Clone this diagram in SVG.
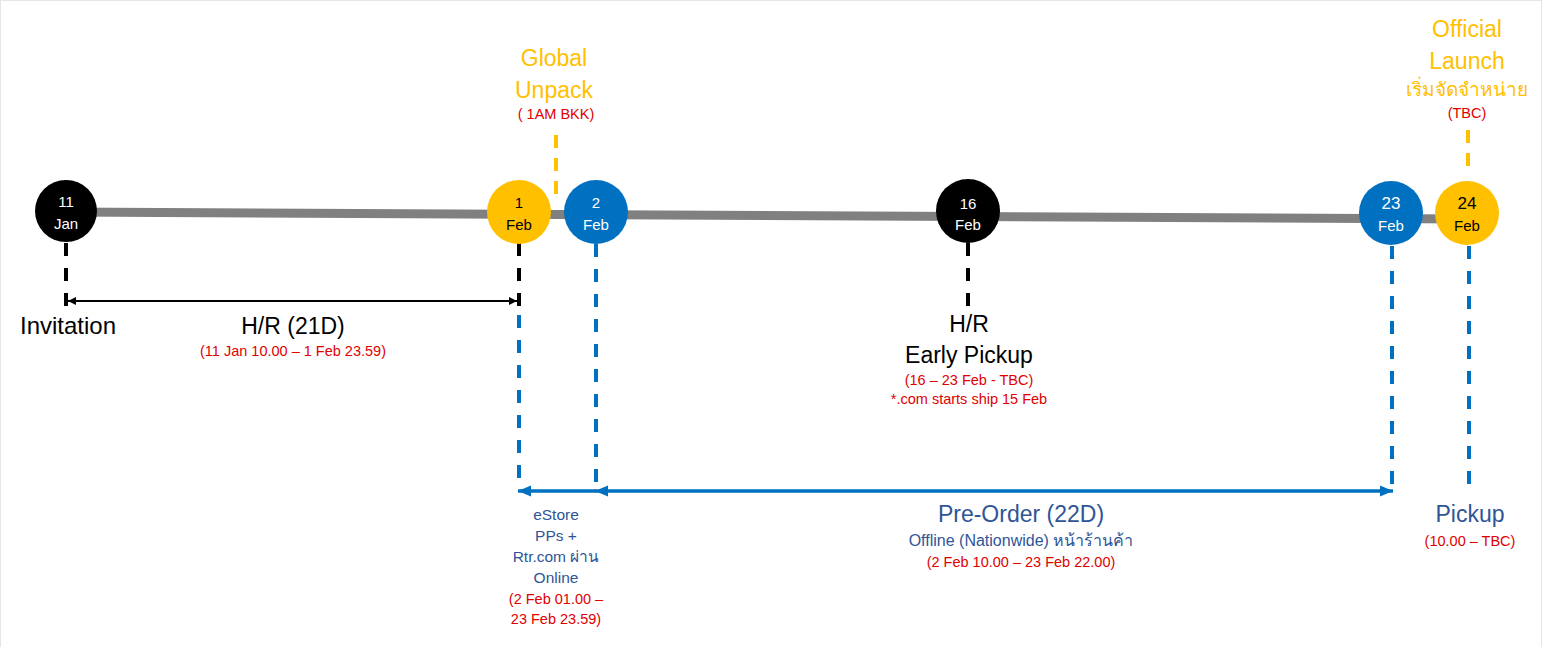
<svg xmlns="http://www.w3.org/2000/svg" width="1544" height="647" viewBox="0 0 1544 647">
<style>
text{font-family:"Liberation Sans","Noto Sans","Noto Sans CJK SC",sans-serif;text-anchor:middle}
.cw{fill:#fff;font-size:15px}
.cb{fill:#000;font-size:15px}
.yel{fill:#FFC000;font-size:23px}
.red{fill:#E00000;font-size:14.5px}
.blk{fill:#000;font-size:23px}
.nav{fill:#2F5597}
.dk{stroke:#000;stroke-width:4;stroke-dasharray:13 12;fill:none}
.db{stroke:#0070C0;stroke-width:4;stroke-dasharray:13 12;fill:none}
.dy{stroke:#FFC000;stroke-width:4;stroke-dasharray:13 10;fill:none}
</style>
<defs>
<marker id="ak" viewBox="0 0 10 10" refX="10" refY="5" markerWidth="4" markerHeight="4" orient="auto-start-reverse"><path d="M0,0L10,5L0,10z" fill="#000"/></marker>
<marker id="ab" viewBox="0 0 10 10" refX="10" refY="5" markerWidth="3.8" markerHeight="3.2" preserveAspectRatio="none" orient="auto-start-reverse"><path d="M0,0L10,5L0,10z" fill="#0070C0"/></marker>
</defs>
<rect x="0.5" y="0.5" width="1541" height="660" fill="#fff" stroke="#e6e6e6"/>
<g id="connectors">
<line x1="66" y1="212" x2="1467" y2="219" stroke="#808080" stroke-width="9"/>
<line class="dk" x1="66" y1="243" x2="66" y2="307"/>
<line class="dk" x1="519" y1="243" x2="519" y2="307"/>
<line class="db" x1="519" y1="315" x2="519" y2="486"/>
<line class="db" x1="596" y1="244" x2="596" y2="490"/>
<line class="dk" x1="968" y1="243" x2="968" y2="308"/>
<line class="db" x1="1392" y1="246" x2="1392" y2="490"/>
<line class="db" x1="1469" y1="246" x2="1469" y2="486"/>
<line class="dy" x1="556" y1="135" x2="556" y2="195"/>
<line class="dy" x1="1468" y1="130" x2="1468" y2="170"/>
<line x1="68" y1="301" x2="517" y2="301" stroke="#000" stroke-width="2" marker-start="url(#ak)" marker-end="url(#ak)"/>
<line x1="596" y1="491" x2="518" y2="491" stroke="#0070C0" stroke-width="3.5" marker-end="url(#ab)"/>
<line x1="595" y1="491" x2="1393" y2="491" stroke="#0070C0" stroke-width="3.5" marker-start="url(#ab)" marker-end="url(#ab)"/>
</g>
<g id="n11jan"><circle cx="66" cy="211" r="31" fill="#000"/><text class="cw" x="66" y="207">11</text><text class="cw" x="66" y="229">Jan</text></g>
<g id="n1feb"><circle cx="519" cy="212" r="32" fill="#FFC000"/><text class="cb" x="519" y="208">1</text><text class="cb" x="519" y="230">Feb</text></g>
<g id="n2feb"><circle cx="596" cy="212" r="32" fill="#0070C0"/><text class="cw" x="596" y="208">2</text><text class="cw" x="596" y="230">Feb</text></g>
<g id="n16feb"><circle cx="968" cy="211" r="32" fill="#000"/><text class="cw" x="968" y="209">16</text><text class="cw" x="968" y="230">Feb</text></g>
<g id="n23feb"><circle cx="1391" cy="213" r="32" fill="#0070C0"/><text class="cw" x="1391" y="209" style="font-size:17px">23</text><text class="cw" x="1391" y="231">Feb</text></g>
<g id="n24feb"><circle cx="1467" cy="213" r="32" fill="#FFC000"/><text class="cb" x="1467" y="209" style="font-size:17px">24</text><text class="cb" x="1467" y="231">Feb</text></g>
<g id="global-unpack">
<text class="yel" x="554" y="66">Global</text>
<text class="yel" x="554" y="98">Unpack</text>
<text class="red" x="556" y="119">( 1AM BKK)</text>
</g>
<g id="official-launch">
<text class="yel" x="1467" y="37">Official</text>
<text class="yel" x="1467" y="69">Launch</text>
<text class="yel" x="1467" y="96" style="font-size:19px">เริ่มจัดจำหน่าย</text>
<text class="red" x="1467" y="118">(TBC)</text>
</g>
<g id="invitation"><text class="blk" x="68" y="334" style="font-size:24px">Invitation</text></g>
<g id="hr21">
<text class="blk" x="293" y="334">H/R (21D)</text>
<text class="red" x="293" y="356">(11 Jan 10.00 – 1 Feb 23.59)</text>
</g>
<g id="early-pickup">
<text class="blk" x="969" y="332">H/R</text>
<text class="blk" x="969" y="363">Early Pickup</text>
<text class="red" x="969" y="385">(16 – 23 Feb - TBC)</text>
<text class="red" x="969" y="404">*.com starts ship 15 Feb</text>
</g>
<g id="estore">
<text class="nav" x="556" y="520" style="font-size:15.5px">eStore</text>
<text class="nav" x="556" y="541" style="font-size:15.5px">PPs +</text>
<text class="nav" x="556" y="562" style="font-size:15.5px">Rtr.com ผ่าน</text>
<text class="nav" x="556" y="583" style="font-size:15.5px">Online</text>
<text class="red" x="556" y="604">(2 Feb 01.00 –</text>
<text class="red" x="556" y="624">23 Feb 23.59)</text>
</g>
<g id="preorder">
<text class="nav" x="1021" y="522" style="font-size:23px">Pre-Order (22D)</text>
<text class="nav" x="1021" y="546" style="font-size:16px">Offline (Nationwide) หน้าร้านค้า</text>
<text class="red" x="1021" y="567">(2 Feb 10.00 – 23 Feb 22.00)</text>
</g>
<g id="pickup">
<text class="nav" x="1470" y="522" style="font-size:23px">Pickup</text>
<text class="red" x="1470" y="546">(10.00 – TBC)</text>
</g>
</svg>
